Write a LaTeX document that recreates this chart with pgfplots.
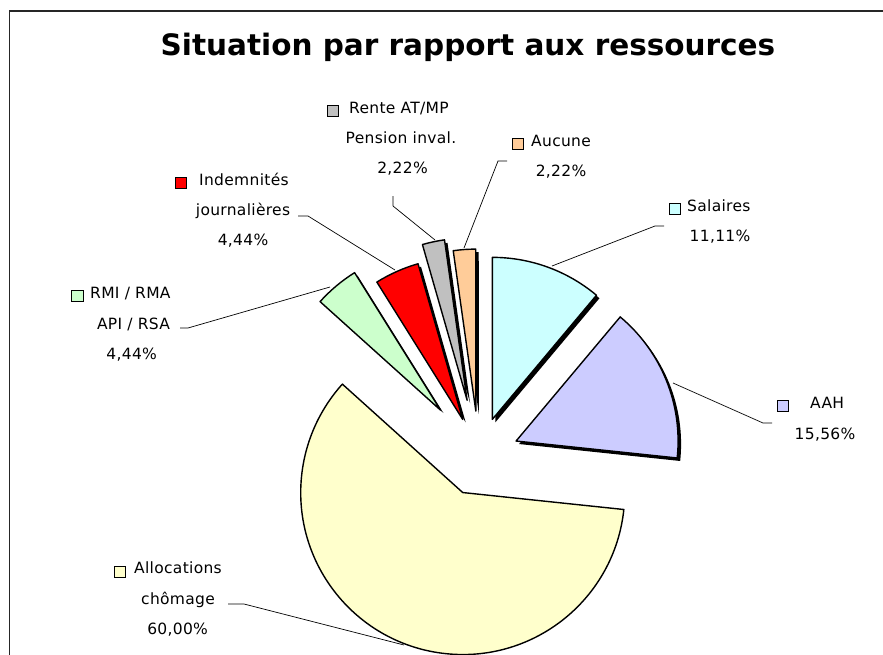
\documentclass[border=0pt]{standalone}
\usepackage{pgfplots}
\pgfplotsset{compat=1.18}
\usepackage{pgfplotstable}
\usetikzlibrary{calc}
\usepackage{fontspec}
\setmainfont{DejaVu Sans}[LetterSpace=2]
\newfontfamily\titlefont{DejaVu Sans}
\definecolor{cSal}{HTML}{CCFFFF}
\definecolor{cAAH}{HTML}{CCCCFF}
\definecolor{cAll}{HTML}{FFFFCC}
\definecolor{cRMI}{HTML}{CCFFCC}
\definecolor{cInd}{HTML}{FF0000}
\definecolor{cRen}{HTML}{C0C0C0}
\definecolor{cAuc}{HTML}{FFCC99}
\newcommand\lbl{\fontsize{15.5}{18}\selectfont}
\pgfplotstableread[col sep=comma]{
name,value,color,explode,shadow
Salaires,11.11,cSal,39,1
AAH,15.56,cAAH,40,1
Allocations,60.00,cAll,40,0
RMI,4.44,cRMI,60,1
Indemnites,4.44,cInd,40,1
Rente,2.22,cRen,57,1
Aucune,2.22,cAuc,45,1
}\piedata
\newcommand\slice[6]{%
  \fill[black,fill opacity=#6] ($(axis cs:479,456)+(#3:#4pt)+(3pt,-3pt)$) -- ++(#1:162pt) arc[start angle=#1,end angle=#2,radius=162pt] -- cycle;
  \filldraw[fill=#5,draw=black,line width=1.4pt,line join=round] ($(axis cs:479,456)+(#3:#4pt)$) -- ++(#1:162pt) arc[start angle=#1,end angle=#2,radius=162pt] -- cycle;
}
\newcommand\mk[3]{\node[draw=black,line width=0.9pt,fill=#1,minimum size=11.5pt,inner sep=0pt] at (axis cs:#2,#3) {};}
\begin{document}
\begin{tikzpicture}
\begin{axis}[name=ax, at={(0,0)}, anchor=south west, scale only axis,
  width=883pt, height=655pt, xmin=0, xmax=883, ymin=0, ymax=655,
  y dir=reverse, hide axis, clip=false]
% frame
\draw[line width=1.3pt,black!85] (axis cs:9.5,655) -- (axis cs:9.5,11) -- (axis cs:883,11);
% title
\node[anchor=base,font=\titlefont\bfseries\fontsize{29.5}{34}\selectfont] at (axis cs:468,56) {Situation par rapport aux ressources};
% slices
\def\cum{0}
\pgfplotsforeachungrouped \i in {0,...,6}{%
  \pgfplotstablegetelem{\i}{value}\of\piedata\let\val\pgfplotsretval
  \pgfplotstablegetelem{\i}{color}\of\piedata\let\col\pgfplotsretval
  \pgfplotstablegetelem{\i}{explode}\of\piedata\let\ex\pgfplotsretval
  \pgfplotstablegetelem{\i}{shadow}\of\piedata\let\sh\pgfplotsretval
  \pgfmathsetmacro\sa{90-3.6*\cum}%
  \pgfmathsetmacro\cumnew{\cum+\val}%
  \pgfmathsetmacro\ea{90-3.6*\cumnew}%
  \pgfmathsetmacro\ma{(\sa+\ea)/2}%
  \let\cum\cumnew
  \edef\cmd{\noexpand\slice{\sa}{\ea}{\ma}{\ex}{\col}{\sh}}%
  \cmd
}
% leader lines
\draw[line width=0.7pt] (axis cs:393,196) -- (axis cs:393,206) -- (axis cs:435,240);
\draw[line width=0.7pt] (axis cs:507,161) -- (axis cs:498,161) -- (axis cs:464,248);
\draw[line width=0.7pt] (axis cs:664,226) -- (axis cs:655,226) -- (axis cs:552,266);
\draw[line width=0.7pt] (axis cs:772,423) -- (axis cs:763,423) -- (axis cs:673,383);
\draw[line width=0.7pt] (axis cs:298,216) -- (axis cs:308,216) -- (axis cs:395,270);
\draw[line width=0.7pt] (axis cs:180,328) -- (axis cs:188,328) -- (axis cs:330,287);
\draw[line width=0.7pt] (axis cs:228,604) -- (axis cs:244,604) -- (axis cs:404,645);
% labels
\mk{cRen}{333}{111}
\node[anchor=mid west,font=\lbl,inner sep=0pt] at (axis cs:349,111) {Rente AT/MP};
\node[anchor=mid,font=\lbl,inner sep=0pt] at (axis cs:401,141) {Pension inval.};
\node[anchor=mid,font=\lbl,inner sep=0pt] at (axis cs:402.5,171) {2,22\%};
\mk{cAuc}{518}{144}
\node[anchor=mid west,font=\lbl,inner sep=0pt] at (axis cs:531,144) {Aucune};
\node[anchor=mid,font=\lbl,inner sep=0pt] at (axis cs:561,174) {2,22\%};
\mk{cSal}{675}{209}
\node[anchor=mid west,font=\lbl,inner sep=0pt] at (axis cs:687,209) {Salaires};
\node[anchor=mid,font=\lbl,inner sep=0pt] at (axis cs:720,239) {11,11\%};
\mk{cAAH}{783}{406}
\node[anchor=mid west,font=\lbl,inner sep=0pt] at (axis cs:810,406) {AAH};
\node[anchor=mid,font=\lbl,inner sep=0pt] at (axis cs:825,437) {15,56\%};
\mk{cInd}{181}{183}
\node[anchor=mid west,font=\lbl,inner sep=0pt] at (axis cs:199,183) {Indemnités};
\node[anchor=mid,font=\lbl,inner sep=0pt] at (axis cs:243,213) {journalières};
\node[anchor=mid,font=\lbl,inner sep=0pt] at (axis cs:243,243) {4,44\%};
\mk{cRMI}{77.5}{296}
\node[anchor=mid west,font=\lbl,inner sep=0pt] at (axis cs:90,296) {RMI / RMA};
\node[anchor=mid,font=\lbl,inner sep=0pt] at (axis cs:133.5,327) {API / RSA};
\node[anchor=mid,font=\lbl,inner sep=0pt] at (axis cs:131.7,357) {4,44\%};
\mk{cAll}{120}{572}
\node[anchor=mid west,font=\lbl,inner sep=0pt] at (axis cs:134,571) {Allocations};
\node[anchor=mid,font=\lbl,inner sep=0pt] at (axis cs:178,602) {chômage};
\node[anchor=mid,font=\lbl,inner sep=0pt] at (axis cs:177.6,632) {60,00\%};
\end{axis}
\pgfresetboundingbox
\useasboundingbox (ax.south west) rectangle (ax.north east);
\end{tikzpicture}
\end{document}
